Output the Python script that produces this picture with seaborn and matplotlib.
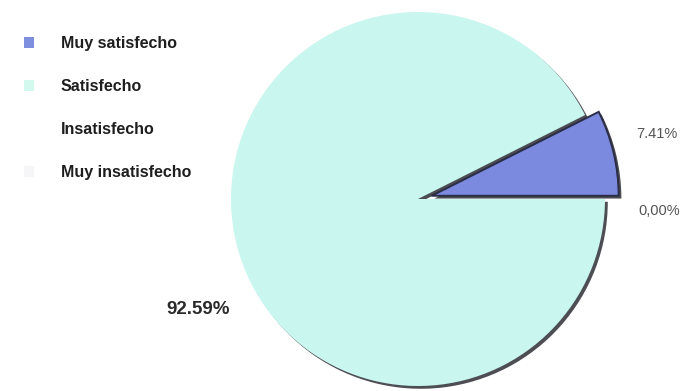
import matplotlib
matplotlib.use("Agg")
import matplotlib.pyplot as plt
from matplotlib.patches import Patch
import seaborn as sns
import numpy as np

# Satisfaction categories and their shares (%)
categories = ["Muy satisfecho", "Satisfecho", "Insatisfecho", "Muy insatisfecho"]
shares = [7.41, 92.59, 0.0, 0.0]
# Text shown next to the slices
share_labels = ["7.41%", "92.59%", "0,00%"]

sns.set_theme(style="white")
plt.rcParams["font.family"] = ["Liberation Sans", "DejaVu Sans"]

slice_colors = ["#7b8ade", "#c9f6ee", "#ffffff", "#ffffff"]
legend_colors = ["#7f8fe0", "#d3f8ee", "#ffffff", "#f6f6f8"]

W, H = 686, 391
fig = plt.figure(figsize=(W / 100, H / 100), dpi=100)
ax = fig.add_axes([0, 0, 1, 1])

cx, cy, r = 418, H - 199, 187
wedges, _ = ax.pie(
    shares,
    colors=slice_colors,
    radius=r,
    center=(cx, cy),
    startangle=0,
    counterclock=True,
    explode=[14, 0, 0, 0],
    wedgeprops={"linewidth": 0, "edgecolor": "none"},
    shadow={"ox": 2.0, "oy": -2.0, "facecolor": "#2e2e36", "edgecolor": "none", "alpha": 0.85},
)
wedges[0].set_edgecolor("#2a2d45")
wedges[0].set_linewidth(1.4)

ax.set_xlim(0, W)
ax.set_ylim(0, H)
ax.set_aspect("equal")
ax.axis("off")

# Percentage labels
ax.text(657, H - 134, share_labels[0], ha="center", va="center",
        fontsize=10.5, color="#555555")
ax.text(659, H - 211, share_labels[2], ha="center", va="center",
        fontsize=10.5, color="#555555")
ax.text(198, H - 310, share_labels[1], ha="center", va="center",
        fontsize=13.5, fontweight="bold", color="#2a2a2a")

# Legend on the left
handles = [Patch(facecolor=c, edgecolor="none") for c in legend_colors]
leg = ax.legend(
    handles, categories, loc="upper left",
    bbox_to_anchor=(10 / W, 1 - 22 / H), bbox_transform=fig.transFigure,
    frameon=False, prop={"weight": "bold", "size": 11.5},
    handlelength=0.62, handleheight=0.7, handletextpad=1.65,
    labelspacing=1.75,
)
for t in leg.get_texts():
    t.set_color("#1e1e1e")

fig.savefig("out.png", dpi=100)
